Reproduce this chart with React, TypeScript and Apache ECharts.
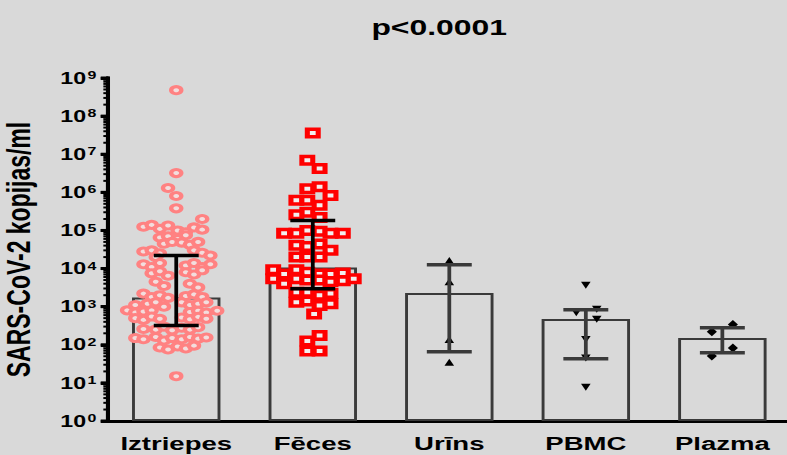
import React, { useEffect, useRef } from "react";
import * as echarts from "echarts";

// Categories, medians and interquartile ranges (copies/ml)
const CATEGORIES = ["Iztriepes", "Fēces", "Urīns", "PBMC", "Plazma"];
const MEDIANS = [1750, 10700, 2270, 475, 151];
const IQR_LOW = [320, 2950, 66, 43, 62];
const IQR_HIGH = [22000, 182000, 12600, 830, 280];

const TITLE = "p<0.0001";
const Y_NAME = "SARS-CoV-2 kopijas/ml";
const Y_MIN = 1;
const Y_MAX = 1e9;
const MINOR_MULTIPLIERS = [2, 3, 4, 5, 6, 7, 8, 9];

// Individual samples: [horizontal spread within the category (in bands), value]
const IZTRIEPES_POINTS: [number, number][] = [
  [0, 4.8e8], [0, 3.2e6], [-0.06, 1.3e6], [0.0, 8e5], [0, 3.8e5],
  [-0.24, 1.25e5], [-0.18, 1.4e5], [-0.12, 1.1e5], [-0.06, 1.35e5], [0.01, 1.0e5],
  [0.07, 9e4], [0.13, 1.2e5], [0.19, 2.0e5], [0.19, 1.05e5],
  [-0.12, 6.5e4], [-0.06, 7e4], [0.01, 6e4], [0.07, 7.5e4], [-0.09, 4.5e4],
  [-0.03, 5e4], [0.04, 4.8e4], [0.1, 4.2e4], [0.16, 5e4],
  [-0.24, 2.8e4], [-0.18, 3e4], [-0.12, 2.5e4], [0.13, 3e4], [0.19, 2.6e4],
  [0.25, 2.2e4], [-0.15, 2e4],
  [-0.24, 1.3e4], [-0.18, 1.1e4], [-0.12, 1.4e4], [0.07, 1.2e4], [0.13, 1.4e4],
  [0.19, 1.1e4], [0.25, 1.3e4],
  [-0.18, 7.5e3], [-0.12, 8.5e3], [-0.06, 6.5e3], [0.07, 8e3], [0.13, 7e3], [0.19, 9e3],
  [-0.15, 4.5e3], [-0.09, 3.5e3], [0.1, 4e3], [0.16, 3.2e3],
  [-0.24, 2.2e3], [-0.18, 1.8e3], [-0.12, 2.0e3], [-0.06, 1.7e3], [0.07, 1.9e3],
  [0.13, 2.1e3], [0.19, 1.8e3],
  [-0.3, 1.1e3], [-0.21, 1.2e3], [-0.15, 1.3e3], [-0.09, 1.0e3], [0.04, 1.3e3],
  [0.1, 1.1e3], [0.16, 1.2e3], [0.22, 1.3e3],
  [-0.36, 800], [-0.3, 700], [-0.24, 750], [-0.18, 800], [0.1, 720], [0.16, 780],
  [0.22, 700], [0.3, 780],
  [-0.3, 500], [-0.24, 450], [-0.18, 550], [-0.12, 480], [0.04, 520], [0.1, 470],
  [0.16, 540], [0.22, 480],
  [-0.24, 260], [-0.15, 250], [-0.09, 300], [-0.03, 240], [0.04, 280], [0.1, 250],
  [0.16, 290],
  [-0.3, 150], [-0.24, 140], [-0.15, 160], [-0.09, 130], [-0.03, 150], [0.04, 140],
  [0.1, 160], [0.16, 145], [0.22, 155],
  [-0.12, 85], [-0.06, 75], [0.01, 90], [0.07, 80], [0.13, 95],
  [0, 15],
];

const FECES_POINTS: [number, number][] = [
  [0, 3.6e7],
  [-0.04, 6.9e6], [0.05, 4.2e6],
  [-0.04, 1.25e6], [0.05, 1.4e6],
  [-0.12, 6.2e5], [-0.04, 6.2e5], [0.13, 8.3e5], [0.05, 4.6e5],
  [-0.04, 3.0e5], [-0.12, 2.6e5], [0.05, 2.2e5],
  [-0.21, 8.5e4], [-0.12, 8.5e4], [-0.04, 1.0e5], [0.05, 9.5e4], [0.13, 8.5e4], [0.22, 8.5e4],
  [-0.12, 4.1e4], [-0.04, 3.8e4], [0.05, 4.4e4], [0.13, 3.0e4],
  [-0.12, 2.0e4], [-0.04, 2.0e4], [0.05, 2.0e4],
  [-0.29, 9.3e3], [-0.21, 7.2e3], [-0.12, 9.3e3], [-0.04, 8e3], [0.05, 7.2e3],
  [0.13, 7.2e3], [0.22, 7.6e3],
  [-0.29, 5.4e3], [-0.21, 4e3], [-0.12, 5.4e3], [-0.04, 5e3], [0.05, 5e3],
  [0.13, 4.5e3], [0.22, 4.8e3], [0.3, 5.4e3],
  [-0.12, 2.4e3], [-0.04, 2.4e3], [0.05, 2.0e3], [0.13, 2.2e3],
  [-0.12, 1.3e3], [-0.04, 1.4e3], [0.05, 1.07e3], [0.13, 1.2e3],
  [0.01, 640],
  [-0.04, 126], [0.05, 174], [-0.04, 69], [0.05, 69],
];

const URINS_POINTS: [number, number][] = [
  [0, 1.6e4], [0, 4.4e3], [0, 135], [0, 34],
];

const PBMC_POINTS: [number, number][] = [
  [0, 3.7e3], [-0.07, 710], [0.08, 870], [0.08, 475], [0, 141], [0, 46], [0, 7.8],
];

const PLAZMA_POINTS: [number, number][] = [
  [0.077, 338], [-0.077, 220], [0.077, 82], [-0.077, 51],
];

// The drawing is laid out narrow and widened horizontally on the page.
const PAGE_W = 787;
const PAGE_H = 455;
const STRETCH_X = 1.45;
const INNER_W = Math.round(PAGE_W / STRETCH_X);

const FONT = "'Liberation Sans', Arial, Helvetica, sans-serif";
const BG = "#d9d9d9";
const ERROR_BAR_COLORS = ["#000000", "#000000", "#3a3a3a", "#3a3a3a", "#3a3a3a"];

type MarkerKind = "ring" | "square" | "up" | "down" | "diamond";

function marker(kind: MarkerKind, x: number, y: number): any {
  switch (kind) {
    case "ring":
      return {
        type: "circle",
        shape: { cx: x, cy: y, r: 3.5 },
        style: { fill: "#f3dddd", stroke: "#ff8282", lineWidth: 3 },
      };
    case "square":
      return {
        type: "rect",
        shape: { x: x - 3.75, y: y - 3.75, width: 7.5, height: 7.5 },
        style: { fill: "#f2eeee", stroke: "#ff0000", lineWidth: 3.5 },
      };
    case "up":
      return {
        type: "polygon",
        shape: { points: [[x, y - 3.8], [x + 3.3, y + 3.2], [x - 3.3, y + 3.2]] },
        style: { fill: "#000" },
      };
    case "down":
      return {
        type: "polygon",
        shape: { points: [[x, y + 3.8], [x + 3.3, y - 3.2], [x - 3.3, y - 3.2]] },
        style: { fill: "#000" },
      };
    default:
      return {
        type: "polygon",
        shape: { points: [[x, y - 4.5], [x + 3.5, y], [x, y + 4.5], [x - 3.5, y]] },
        style: { fill: "#000" },
      };
  }
}

// One custom series per sample group, spread sideways by a fraction of the band.
function swarmSeries(points: [number, number][], index: number, kind: MarkerKind) {
  return {
    type: "custom",
    data: points.map(([dx, v]) => [index, v, dx]),
    encode: { x: 0, y: 1 },
    clip: false,
    z: 3,
    renderItem: (_params: any, api: any) => {
      const c = api.coord([api.value(0), api.value(1)]);
      const band = api.size([1, 0], [api.value(0), api.value(1)])[0];
      return marker(kind, c[0] + api.value(2) * band, c[1]);
    },
  };
}

export default function App() {
  const ref = useRef<HTMLDivElement>(null);

  useEffect(() => {
    if (!ref.current) return;
    const chart = echarts.init(ref.current, null, { renderer: "svg" });

    const option: any = {
      animation: false,
      backgroundColor: BG,
      graphic: [
        {
          type: "text",
          x: 303,
          y: 27,
          style: {
            text: TITLE,
            fontFamily: FONT,
            fontSize: 22,
            fontWeight: "bold",
            fill: "#000",
            align: "center",
            verticalAlign: "middle",
          },
        },
      ],
      grid: {
        left: 74.5,
        top: 78,
        bottom: 34,
        width: 471,
        outerBoundsMode: "none",
      },
      xAxis: {
        type: "category",
        data: CATEGORIES,
        axisLine: { onZero: false, lineStyle: { color: "#000", width: 3 } },
        axisTick: { alignWithLabel: true, length: 8, lineStyle: { color: "#000", width: 2 } },
        axisLabel: {
          interval: 0,
          color: "#000",
          fontFamily: FONT,
          fontSize: 19,
          fontWeight: "bold",
          margin: 13,
        },
        splitLine: { show: false },
      },
      yAxis: {
        type: "log",
        logBase: 10,
        min: Y_MIN,
        max: Y_MAX,
        splitNumber: 9,
        name: Y_NAME,
        nameLocation: "middle",
        nameGap: 50,
        nameTextStyle: {
          color: "#000",
          fontFamily: FONT,
          fontSize: 23,
          fontWeight: "bold",
        },
        axisLine: { show: true, onZero: false, lineStyle: { color: "#000", width: 2.8 } },
        axisTick: { show: true, length: 5, lineStyle: { color: "#000", width: 3 } },
        splitLine: { show: false },
        axisLabel: {
          margin: 8,
          formatter: (v: number) => `{b|10}{e|${Math.round(Math.log10(v))}}`,
          rich: {
            b: { fontFamily: FONT, fontSize: 16, fontWeight: "bold", color: "#000", lineHeight: 16 },
            e: {
              fontFamily: FONT,
              fontSize: 11,
              fontWeight: "bold",
              color: "#000",
              lineHeight: 11,
              verticalAlign: "top",
              padding: [0, 0, 0, 1],
            },
          },
        },
      },
      series: [
        {
          type: "bar",
          data: MEDIANS,
          barWidth: 61,
          itemStyle: { color: "rgba(0,0,0,0)", borderColor: "#3a3a3a", borderWidth: 2 },
          z: 1,
        },
        {
          // y axis spine with decade ticks and 2..9 minor ticks
          type: "custom",
          data: [[0, Y_MIN]],
          silent: true,
          clip: false,
          z: 5,
          renderItem: (_params: any, api: any) => {
            const band = api.size([1, 0], [0, Y_MIN])[0];
            const axisX = api.coord([0, Y_MIN])[0] - band / 2;
            const yTop = api.coord([0, Y_MAX])[1];
            const yBottom = api.coord([0, Y_MIN])[1];
            const children: any[] = [
              {
                type: "line",
                shape: { x1: axisX, y1: yTop - 1.5, x2: axisX, y2: yBottom + 1.5 },
                style: { stroke: "#000", lineWidth: 2.8 },
              },
            ];
            for (let d = Math.log10(Y_MIN); d <= Math.log10(Y_MAX); d++) {
              const yMajor = api.coord([0, Math.pow(10, d)])[1];
              children.push({
                type: "line",
                shape: { x1: axisX - 5, y1: yMajor, x2: axisX, y2: yMajor },
                style: { stroke: "#000", lineWidth: 3 },
              });
              if (d === Math.log10(Y_MAX)) break;
              for (const m of MINOR_MULTIPLIERS) {
                const y = api.coord([0, m * Math.pow(10, d)])[1];
                children.push({
                  type: "line",
                  shape: { x1: axisX - 3.2, y1: y, x2: axisX, y2: y },
                  style: { stroke: "#000", lineWidth: 2 },
                });
              }
            }
            return { type: "group", children };
          },
        },
        swarmSeries(IZTRIEPES_POINTS, 0, "ring"),
        swarmSeries(FECES_POINTS, 1, "square"),
        swarmSeries(URINS_POINTS, 2, "up"),
        swarmSeries(PBMC_POINTS, 3, "down"),
        swarmSeries(PLAZMA_POINTS, 4, "diamond"),
        {
          // interquartile range whiskers
          type: "custom",
          data: CATEGORIES.map((_, i) => [i, IQR_LOW[i], IQR_HIGH[i]]),
          encode: { x: 0, y: [1, 2] },
          clip: false,
          z: 4,
          renderItem: (params: any, api: any) => {
            const i = api.value(0);
            const lo = api.coord([i, api.value(1)]);
            const hi = api.coord([i, api.value(2)]);
            const half = 15.5;
            const color = ERROR_BAR_COLORS[params.dataIndex];
            return {
              type: "group",
              children: [
                {
                  type: "line",
                  shape: { x1: lo[0], y1: lo[1], x2: hi[0], y2: hi[1] },
                  style: { stroke: color, lineWidth: 2.6 },
                },
                {
                  type: "line",
                  shape: { x1: lo[0] - half, y1: lo[1], x2: lo[0] + half, y2: lo[1] },
                  style: { stroke: color, lineWidth: 3.5 },
                },
                {
                  type: "line",
                  shape: { x1: hi[0] - half, y1: hi[1], x2: hi[0] + half, y2: hi[1] },
                  style: { stroke: color, lineWidth: 3.5 },
                },
              ],
            };
          },
        },
      ],
    };

    chart.setOption(option);
    return () => chart.dispose();
  }, []);

  return (
    <div
      style={{
        position: "absolute",
        left: 0,
        top: 0,
        width: PAGE_W,
        height: PAGE_H,
        overflow: "hidden",
        background: BG,
      }}
    >
      <div
        ref={ref}
        style={{
          width: INNER_W,
          height: PAGE_H,
          transform: `scaleX(${PAGE_W / INNER_W})`,
          transformOrigin: "0 0",
        }}
      />
    </div>
  );
}
